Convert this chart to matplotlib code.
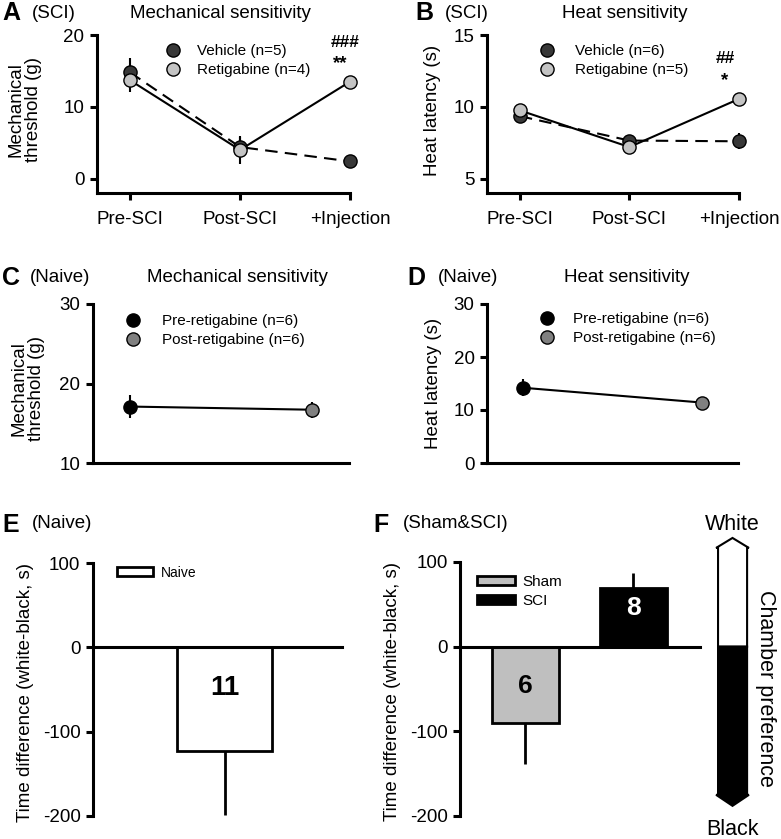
import numpy as np
import matplotlib
matplotlib.use("Agg")
import matplotlib.pyplot as plt
from matplotlib.lines import Line2D
from matplotlib.patches import Patch, Polygon

plt.rcParams['font.family'] = ['Liberation Sans', 'DejaVu Sans']
plt.rcParams['axes.unicode_minus'] = False

# ---- data ----
time_labels = ["Pre-SCI", "Post-SCI", "+Injection"]

# A: mechanical threshold (g), SCI
mech_veh = [14.8, 4.4, 2.4]
mech_veh_err = [2.0, 1.4, 0.4]
mech_ret = [13.7, 4.0, 13.5]
mech_ret_err = [1.7, 2.0, 0.6]

# B: heat latency (s), SCI
heat_veh = [9.35, 7.65, 7.6]
heat_veh_err = [0.35, 0.3, 0.55]
heat_ret = [9.75, 7.2, 10.55]
heat_ret_err = [0.3, 0.25, 0.35]

# C / D: naive, pre vs post retigabine
naive_mech = [17.1, 16.7]
naive_mech_err = [1.5, 1.0]
naive_heat = [14.2, 11.4]
naive_heat_err = [1.6, 0.4]

# E: place preference, naive
naive_pref = [-123]
naive_pref_err = [76]
naive_n = ["11"]

# F: place preference, sham & SCI
groups_f = ["Sham", "SCI"]
pref_f = [-90, 69]
pref_f_err = [48, 18]
n_f = ["6", "8"]

W, H = 781, 839
fig = plt.figure(figsize=(W / 100, H / 100), dpi=100)


def ax_px(x0, y0, x1, y1):
    return fig.add_axes([x0 / W, 1 - y1 / H, (x1 - x0) / W, (y1 - y0) / H])


def ftext(x, y, s, **kw):
    fig.text(x / W, 1 - y / H, s, **kw)


def style(ax):
    for s in ["top", "right"]:
        ax.spines[s].set_visible(False)
    for s in ["left", "bottom"]:
        ax.spines[s].set_linewidth(2.2)
    ax.tick_params(width=2.2, length=5, labelsize=13.5, direction="out")
    ax.tick_params(axis="y", pad=4)
    ax.tick_params(axis="x", pad=8)


c_veh = "#383838"
c_ret = "#c4c4c4"


def line_panel(ax, veh, veh_err, ret, ret_err):
    x = np.arange(len(time_labels))
    ax.plot(x, veh, color="k", lw=1.5, dashes=(6, 3.5), zorder=2, clip_on=False)
    ax.plot(x, ret, color="k", lw=1.5, zorder=3, clip_on=False)
    ax.errorbar(x, veh, yerr=veh_err, fmt="none", ecolor="k", elinewidth=1.5, zorder=2, clip_on=False)
    ax.errorbar(x, ret, yerr=ret_err, fmt="none", ecolor="k", elinewidth=1.5, zorder=3, clip_on=False)
    ax.plot(x, veh, "o", ms=9.5, mfc=c_veh, mec="k", mew=1, zorder=4, clip_on=False)
    ax.plot(x, ret, "o", ms=9.5, mfc=c_ret, mec="k", mew=1, zorder=5, clip_on=False)
    ax.set_xticks(x)
    ax.set_xticklabels(time_labels)
    ax.set_xlim(-0.3, 2.0)
    handles = [Line2D([], [], ls="none", marker="o", ms=9.5, mfc=c_veh, mec="k"),
               Line2D([], [], ls="none", marker="o", ms=9.5, mfc=c_ret, mec="k")]
    return handles


def small_legend(ax, handles, labels, x, y, pad):
    ax.legend(handles, labels, loc="upper left", bbox_to_anchor=(x, y),
              frameon=False, fontsize=11, handlelength=1.0, handletextpad=pad,
              labelspacing=0.3, borderpad=0, borderaxespad=0)


# ---- A ----
axA = ax_px(97, 35, 350, 193)
style(axA)
hA = line_panel(axA, mech_veh, mech_veh_err, mech_ret, mech_ret_err)
axA.set_ylim(-2, 20)
axA.set_yticks([0, 10, 20])
axA.set_ylabel("Mechanical\nthreshold (g)", fontsize=13.5, va="center", linespacing=1.05)
axA.yaxis.set_label_coords(-0.285, 0.53)
small_legend(axA, hA, ["Vehicle (n=5)", "Retigabine (n=4)"], 0.27, 0.94, 1.07)
axA.text(1.955, 18.9, "###", fontsize=12.5, fontweight="bold", ha="center", va="center")
axA.text(1.91, 16.0, "**", fontsize=13.5, fontweight="bold", ha="center", va="center")

# ---- B ----
axB = ax_px(487, 35, 739, 193)
style(axB)
hB = line_panel(axB, heat_veh, heat_veh_err, heat_ret, heat_ret_err)
axB.set_ylim(4.0, 15)
axB.set_yticks([5, 10, 15])
axB.set_ylabel("Heat latency (s)", fontsize=13.5, va="center")
axB.yaxis.set_label_coords(-0.218, 0.52)
small_legend(axB, hB, ["Vehicle (n=6)", "Retigabine (n=5)"], 0.208, 0.94, 1.33)
axB.text(1.872, 13.33, "##", fontsize=12.5, fontweight="bold", ha="center", va="center")
axB.text(1.872, 11.8, "*", fontsize=13.5, fontweight="bold", ha="center", va="center")


def naive_panel(ax, vals, errs):
    x = np.arange(2)
    ax.plot(x, vals, color="k", lw=1.5, zorder=2)
    ax.errorbar(x, vals, yerr=errs, fmt="none", ecolor="k", elinewidth=1.5, zorder=3)
    ax.plot(x[:1], vals[:1], "o", ms=9.5, mfc="k", mec="k", zorder=4)
    ax.plot(x[1:], vals[1:], "o", ms=9.5, mfc="#808080", mec="k", zorder=4)
    ax.set_xlim(-0.2, 1.2)
    ax.set_xticks([])
    handles = [Line2D([], [], ls="none", marker="o", ms=9.5, mfc="k", mec="k"),
               Line2D([], [], ls="none", marker="o", ms=9.5, mfc="#808080", mec="k")]
    return handles


naive_labels = ["Pre-retigabine (n=6)", "Post-retigabine (n=6)"]

# ---- C ----
axC = ax_px(93, 304, 349, 463)
style(axC)
hC = naive_panel(axC, naive_mech, naive_mech_err)
axC.set_ylim(10, 30)
axC.set_yticks([10, 20, 30])
axC.set_ylabel("Mechanical\nthreshold (g)", fontsize=13.5, va="center", linespacing=1.05)
axC.yaxis.set_label_coords(-0.254, 0.47)
small_legend(axC, hC, naive_labels, 0.127, 0.934, 1.4)

# ---- D ----
axD = ax_px(487, 304, 738, 463)
style(axD)
hD = naive_panel(axD, naive_heat, naive_heat_err)
axD.set_ylim(0, 30)
axD.set_yticks([0, 10, 20, 30])
axD.set_ylabel("Heat latency (s)", fontsize=13.5, va="center")
axD.yaxis.set_label_coords(-0.215, 0.5)
small_legend(axD, hD, naive_labels, 0.209, 0.947, 1.2)


def pref_axes(ax):
    style(ax)
    ax.spines["bottom"].set_position(("data", 0))
    ax.set_xticks([])
    ax.set_ylim(-200, 100)
    ax.set_yticks([-200, -100, 0, 100])
    ax.set_ylabel("Time difference (white-black, s)", fontsize=13.5, va="center")


# ---- E ----
axE = ax_px(93, 563, 342, 816)
pref_axes(axE)
axE.bar([0], naive_pref, width=0.8, color="white", edgecolor="k", lw=2, zorder=2)
axE.errorbar([0], naive_pref, yerr=[naive_pref_err, [0]], fmt="none",
             ecolor="k", elinewidth=2, zorder=1)
axE.text(0, -48, naive_n[0], fontsize=20, fontweight="bold", ha="center", va="center")
axE.set_xlim(-1.107, 0.989)
axE.yaxis.set_label_coords(-0.273, 0.49)
axE.legend([Patch(facecolor="white", edgecolor="k", lw=2)], ["Naive"],
           loc="upper left", bbox_to_anchor=(0.095, 0.99), frameon=False,
           fontsize=10, handlelength=2.6, handleheight=0.65,
           handletextpad=0.6, borderpad=0, borderaxespad=0)

# ---- F ----
axF = ax_px(460, 562, 700, 816)
pref_axes(axF)
xf = np.arange(len(groups_f))
bar_colors = ["#bfbfbf", "k"]
axF.bar(xf, pref_f, width=0.62, color=bar_colors, edgecolor="k", lw=2, zorder=2)
lo = [e if v < 0 else 0 for v, e in zip(pref_f, pref_f_err)]
hi = [e if v > 0 else 0 for v, e in zip(pref_f, pref_f_err)]
axF.errorbar(xf, pref_f, yerr=[lo, hi], fmt="none", ecolor="k", elinewidth=2, zorder=1)
for xi, n, c, yy in zip(xf, n_f, ["k", "white"], [-47, 46]):
    axF.text(xi, yy, n, fontsize=19, fontweight="bold", color=c, ha="center", va="center")
axF.set_xlim(-0.602, 1.62)
axF.yaxis.set_label_coords(-0.283, 0.49)
axF.legend([Patch(facecolor="#bfbfbf", edgecolor="k", lw=2),
            Patch(facecolor="k", edgecolor="k", lw=2)], groups_f,
           loc="upper left", bbox_to_anchor=(0.07, 0.95), frameon=False,
           fontsize=11, handlelength=2.5, handleheight=0.5,
           handletextpad=0.5, labelspacing=0.35, borderpad=0, borderaxespad=0)

# chamber preference arrow
white_part = Polygon([(1.787, 0), (1.787, 116.6), (1.769, 116.6), (1.921, 128.4),
                      (2.073, 116.6), (2.056, 116.6), (2.056, 0)], closed=True,
                     facecolor="white", edgecolor="k", lw=1.5, clip_on=False)
black_part = Polygon([(1.787, 0), (1.787, -175), (1.769, -175), (1.921, -188),
                      (2.073, -175), (2.056, -175), (2.056, 0)], closed=True,
                     facecolor="k", edgecolor="k", lw=1.5, clip_on=False)
axF.add_patch(white_part)
axF.add_patch(black_part)
axF.text(1.921, 144, "White", fontsize=15.5, ha="center", va="center", clip_on=False)
axF.text(1.921, -216, "Black", fontsize=15.5, ha="center", va="center", clip_on=False)
axF.text(2.23, -49, "Chamber preference", fontsize=15.5, rotation=270,
         ha="center", va="center", clip_on=False)

# ---- panel titles ----
for x, y, s in [(2, 13, "A"), (415, 13, "B"), (2, 278, "C"), (407, 278, "D"),
                (2, 525, "E"), (373, 525, "F")]:
    ftext(x, y, s, fontsize=18, fontweight="bold", ha="left", va="center")
for x, y, s in [(32, 13, "(SCI)"), (445, 13, "(SCI)"), (30, 278, "(Naive)"),
                (438, 278, "(Naive)"), (32, 523, "(Naive)"), (403, 523, "(Sham&SCI)")]:
    ftext(x, y, s, fontsize=13.5, ha="left", va="center")
for x, y, s in [(220, 13, "Mechanical sensitivity"), (625, 13, "Heat sensitivity"),
                (237, 278, "Mechanical sensitivity"), (627, 278, "Heat sensitivity")]:
    ftext(x, y, s, fontsize=13.5, ha="center", va="center")

fig.savefig("out.png", dpi=100)
